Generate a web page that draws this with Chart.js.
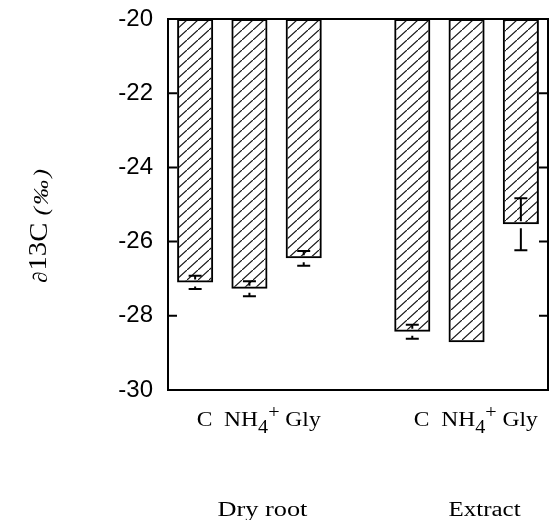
<!DOCTYPE html>
<html>
<head>
<meta charset="utf-8">
<script src="https://cdn.jsdelivr.net/npm/chart.js@4.4.0/dist/chart.umd.min.js"></script>
<style>
  html, body { margin: 0; padding: 0; background: #fff; }
  #wrap { width: 552px; height: 520px; }
</style>
</head>
<body>
<div id="wrap"><canvas id="chart" width="552" height="520"></canvas></div>
<script>
// data
const categories = ['C', 'NH4+', 'Gly', '', 'C', 'NH4+', 'Gly'];
const groups = ['Dry root', 'Extract'];
const groupStart = [0, 4];
const delta13C = [-27.1, -27.27, -26.45, null, -28.43, -28.71, -25.53];
const errors = [0.18, 0.2, 0.2, null, 0.19, 0, 0.7];
const yTicks = [-20, -22, -24, -26, -28, -30];
const baseValue = -20;

// diagonal hatch
function hatch() {
  const c = document.createElement('canvas');
  c.width = 11; c.height = 10;
  const g = c.getContext('2d');
  g.strokeStyle = '#111';
  g.lineWidth = 1.2;
  g.beginPath();
  g.moveTo(-11, 20); g.lineTo(22, -10);
  g.stroke();
  return g.createPattern(c, 'repeat');
}

// draw a row of text runs, stretched to a given width
function drawRuns(ctx, runs, x, y, width) {
  let natural = 0;
  runs.forEach(r => { ctx.font = r.font; natural += ctx.measureText(r.t).width + (r.gap || 0); });
  const sx = width ? width / natural : 1;
  ctx.save();
  ctx.translate(x, y);
  ctx.scale(sx, 1);
  let cx = 0;
  runs.forEach(r => {
    ctx.font = r.font;
    ctx.fillText(r.t, cx, r.dy || 0);
    cx += ctx.measureText(r.t).width + (r.gap || 0);
  });
  ctx.restore();
}

const serif = '"Liberation Serif", "Times New Roman", serif';

const decor = {
  id: 'decor',
  afterDatasetsDraw(chart) {
    const ctx = chart.ctx;
    const a = chart.chartArea;
    const xs = chart.scales.x, ys = chart.scales.y;
    ctx.save();
    ctx.strokeStyle = '#000';
    ctx.fillStyle = '#000';
    ctx.lineWidth = 2;

    // error bars
    const half = 6.5;
    delta13C.forEach((v, i) => {
      if (v === null || !errors[i]) return;
      const x = xs.getPixelForValue(i);
      const yb = ys.getPixelForValue(v);
      const yt = ys.getPixelForValue(v + errors[i]);
      const yl = ys.getPixelForValue(v - errors[i]);
      ctx.beginPath();
      ctx.moveTo(x - half, yt); ctx.lineTo(x + half, yt);
      ctx.moveTo(x, yt); ctx.lineTo(x, Math.max(yt, yb - 3));
      ctx.moveTo(x, Math.min(yl, yb + 4)); ctx.lineTo(x, yl);
      ctx.moveTo(x - half, yl); ctx.lineTo(x + half, yl);
      ctx.stroke();
    });

    // frame and inward ticks
    ctx.strokeRect(a.left, a.top, a.right - a.left, a.bottom - a.top);
    ctx.beginPath();
    yTicks.forEach(t => {
      const y = ys.getPixelForValue(t);
      ctx.moveTo(a.left, y); ctx.lineTo(a.left + 9, y);
      ctx.moveTo(a.right, y); ctx.lineTo(a.right - 9, y);
    });
    ctx.stroke();

    // category labels under each group
    ctx.textAlign = 'left';
    ctx.textBaseline = 'alphabetic';
    groupStart.forEach((s, gi) => {
      const x0 = xs.getPixelForValue(s) + 1.5;
      drawRuns(ctx, [
        { t: 'C  NH', font: '21px ' + serif },
        { t: '4', font: '18px ' + serif, dy: 7 },
        { t: '+', font: '18px ' + serif, dy: -8 },
        { t: ' Gly', font: '21px ' + serif }
      ], x0, 426, 124);
      const mid = (xs.getPixelForValue(s) + xs.getPixelForValue(s + 2)) / 2;
      const w = gi === 0 ? 90 : 72;
      drawRuns(ctx, [{ t: groups[gi], font: '20px ' + serif }], mid + 13 - w / 2 + (gi === 0 ? 0 : 5), 516, w);
    });

    // y axis title
    ctx.save();
    ctx.translate(47, 283);
    ctx.rotate(-Math.PI / 2);
    drawRuns(ctx, [
      { t: '\u2202', font: '20px ' + serif, gap: 1 },
      { t: '13', font: '25px ' + serif, dy: -1 },
      { t: 'C ', font: '25px ' + serif },
      { t: '(', font: 'italic 22px ' + serif, gap: 2, dy: 1 },
      { t: '\u2030', font: 'italic 22px ' + serif, gap: 2, dy: 1 },
      { t: ')', font: 'italic 22px ' + serif, dy: 1 }
    ], 0, 0, 114);
    ctx.restore();

    ctx.restore();
  }
};

new Chart(document.getElementById('chart'), {
  type: 'bar',
  data: {
    labels: categories,
    datasets: [{
      data: delta13C.map(v => v === null ? null : [baseValue, v]),
      backgroundColor: hatch(),
      borderColor: '#000',
      borderWidth: 2,
      borderSkipped: false,
      barPercentage: 0.665,
      categoryPercentage: 1
    }]
  },
  options: {
    responsive: false,
    animation: false,
    layout: { padding: { top: 19, right: 4, left: 0, bottom: 0 } },
    plugins: { legend: { display: false }, tooltip: { enabled: false } },
    scales: {
      x: {
        grid: { display: false },
        border: { display: false },
        ticks: { display: false },
        afterFit: s => { s.height = 130; }
      },
      y: {
        min: -30,
        max: -20,
        grid: { display: false, drawTicks: false },
        border: { display: false },
        afterBuildTicks: s => { s.ticks = yTicks.map(v => ({ value: v })); },
        ticks: {
          color: '#000',
          padding: 15,
          font: { family: '"Liberation Sans", Arial, sans-serif', size: 24 }
        },
        afterFit: s => { s.width = 168; s.paddingTop = 0; s.paddingBottom = 0; }
      }
    }
  },
  plugins: [decor]
});
</script>
</body>
</html>
